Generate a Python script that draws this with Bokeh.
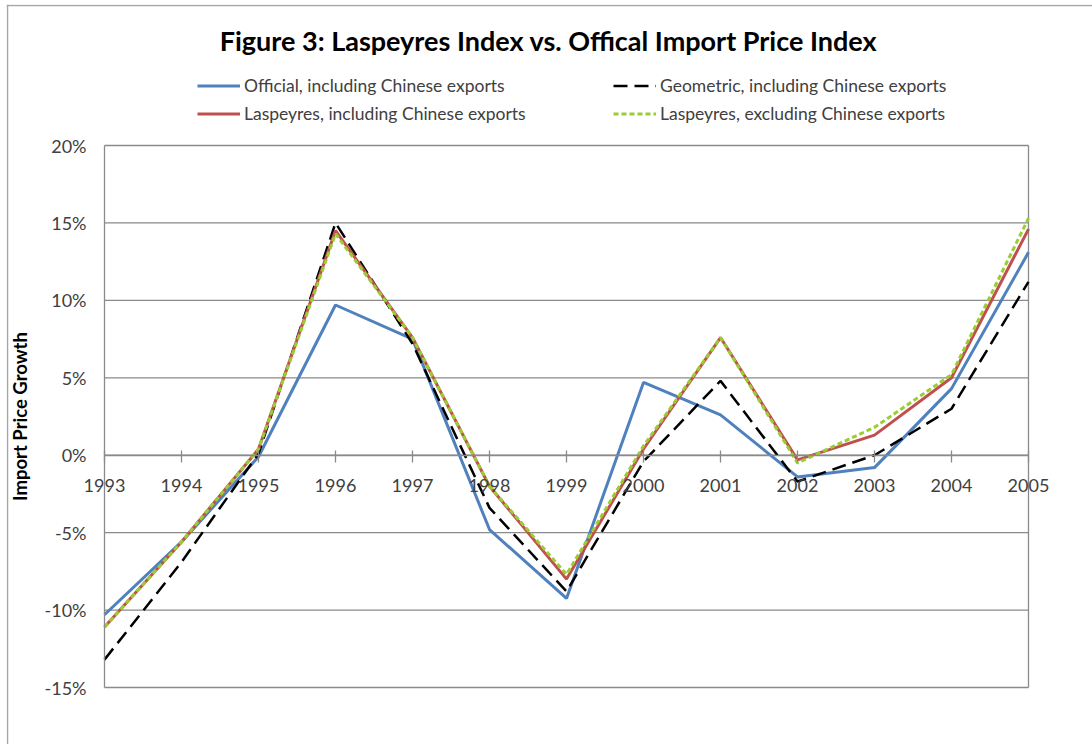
from bokeh.plotting import figure
from bokeh.models import (Legend, LegendItem, Label, Span, FixedTicker, PrintfTickFormatter, Range1d)
from bokeh.embed import file_html
from bokeh.resources import INLINE

# ---- data (percent growth) ----
years = [1993, 1994, 1995, 1996, 1997, 1998, 1999, 2000, 2001, 2002, 2003, 2004, 2005]
official = [-10.3, -5.6, -0.1, 9.7, 7.5, -4.8, -9.25, 4.7, 2.6, -1.4, -0.8, 4.3, 13.1]
geometric = [-13.2, -6.9, 0.1, 15.0, 7.2, -3.4, -8.8, -0.4, 4.8, -1.7, 0.0, 3.0, 11.2]
lasp_incl = [-11.1, -5.6, 0.4, 14.5, 7.6, -2.0, -8.0, 0.4, 7.6, -0.3, 1.3, 5.0, 14.6]
lasp_excl = [-11.1, -5.6, 0.4, 14.3, 7.6, -2.0, -7.7, 0.6, 7.6, -0.5, 1.8, 5.2, 15.3]
y_ticks = [-15, -10, -5, 0, 5, 10, 15, 20]
series_names = ["Official, including Chinese exports",
                "Geometric, including Chinese exports",
                "Laspeyres, including Chinese exports",
                "Laspeyres, excluding Chinese exports"]
title_text = "Figure 3: Laspeyres Index vs. Offical Import Price Index"

FONT = "Lato"
GRID = "#8a8a8a"
TXT = "#404040"
STYLES = [dict(line_color="#4F81BD", line_width=3),
          dict(line_color="#000000", line_width=2.5, line_dash="14 7"),
          dict(line_color="#C0504D", line_width=3),
          dict(line_color="#9ACD32", line_width=3, line_dash="5 3")]

# ---- layout (pixels) ----
W, H = 1092, 744
FR_L, FR_T = 6, 4                  # frame origin (outer chart border drawn 1px inside)
PA_L, PA_R, PA_T, PA_B = 104, 1028, 145, 687   # plot area
FW, FH = W - FR_L, H - FR_T
kx = (PA_R - PA_L) / (years[-1] - years[0])
ky = (PA_B - PA_T) / (y_ticks[-1] - y_ticks[0])
x0 = years[0] - (PA_L - FR_L) / kx
y1 = y_ticks[-1] + (PA_T - FR_T) / ky

p = figure(width=W, height=H, output_backend="svg", toolbar_location=None,
           x_range=Range1d(x0, x0 + FW / kx), y_range=Range1d(y1 - FH / ky, y1),
           min_border_left=FR_L, min_border_top=FR_T,
           min_border_right=0, min_border_bottom=0)
p.outline_line_color = None

# outer chart border (left and top edges are visible in the reference)
p.add_layout(Span(location=x0 + 1 / kx, dimension="height",
                  line_color="#a6a6a6", line_width=1.5))
p.add_layout(Span(location=y1 - 1 / ky, dimension="width",
                  line_color="#a6a6a6", line_width=1.5))

# x (category) axis crossing at 0%
p.xaxis.fixed_location = 0
p.xaxis.bounds = (years[0], years[-1])
p.xaxis.ticker = FixedTicker(ticks=years)
p.xaxis.major_label_overrides = {y: str(y) for y in years}
p.xaxis.axis_line_color = GRID
p.xaxis.axis_line_width = 1.3
p.xaxis.major_tick_line_color = GRID
p.xaxis.major_tick_line_width = 1.3
p.xaxis.major_tick_in = 5
p.xaxis.major_tick_out = 7
p.xaxis.minor_tick_line_color = None
p.xaxis.major_label_standoff = 17
p.xaxis.major_label_text_font = FONT
p.xaxis.major_label_text_font_size = "18px"
p.xaxis.major_label_text_color = TXT
p.xgrid.visible = False

# y axis at left edge of plot area
p.yaxis.fixed_location = years[0]
p.yaxis.bounds = (y_ticks[0], y_ticks[-1])
p.yaxis.ticker = FixedTicker(ticks=y_ticks)
p.yaxis.formatter = PrintfTickFormatter(format="%d%%")
p.yaxis.axis_line_color = GRID
p.yaxis.axis_line_width = 1.3
p.yaxis.major_tick_line_color = None
p.yaxis.major_tick_out = 0
p.yaxis.major_tick_in = 0
p.yaxis.minor_tick_line_color = None
p.yaxis.major_label_standoff = 18
p.yaxis.major_label_text_font = FONT
p.yaxis.major_label_text_font_size = "18px"
p.yaxis.major_label_text_color = TXT
p.yaxis.axis_label = "Import Price Growth"
p.yaxis.axis_label_text_font = FONT
p.yaxis.axis_label_text_font_size = "18.5px"
p.yaxis.axis_label_text_font_style = "bold"
p.yaxis.axis_label_text_color = "#000000"
p.yaxis.axis_label_standoff = 11
p.ygrid.visible = False

# horizontal gridlines and right border of the plot area
p.segment(x0=[years[0]] * len(y_ticks), y0=y_ticks, x1=[years[-1]] * len(y_ticks), y1=y_ticks,
          line_color=GRID, line_width=1.3)
p.segment(x0=[years[-1]], y0=[y_ticks[0]], x1=[years[-1]], y1=[y_ticks[-1]],
          line_color=GRID, line_width=1.3)

# series (drawn in legend order)
rs = [p.line(years, vals, **st)
      for vals, st in zip([official, geometric, lasp_incl, lasp_excl], STYLES)]


def mk_legend(idx, x):
    lg = Legend(items=[LegendItem(label=series_names[i], renderers=[rs[i]]) for i in idx],
                location=(x - FR_L, H - 124), orientation="vertical",
                glyph_width=43, glyph_height=21, spacing=7, padding=0, margin=0,
                label_standoff=4, label_text_font=FONT, label_text_font_size="17.5px",
                label_text_color=TXT, border_line_color=None, background_fill_alpha=0)
    p.add_layout(lg, "center")


mk_legend([0, 2], 197)
mk_legend([1, 3], 613)

p.add_layout(Label(x=548 - FR_L, y=H - 40, x_units="screen", y_units="screen",
                   text=title_text, text_align="center", text_baseline="middle",
                   text_font=FONT, text_font_size="27px", text_font_style="bold",
                   text_color="#000000"))

open("out.html", "w").write(file_html(p, INLINE))
